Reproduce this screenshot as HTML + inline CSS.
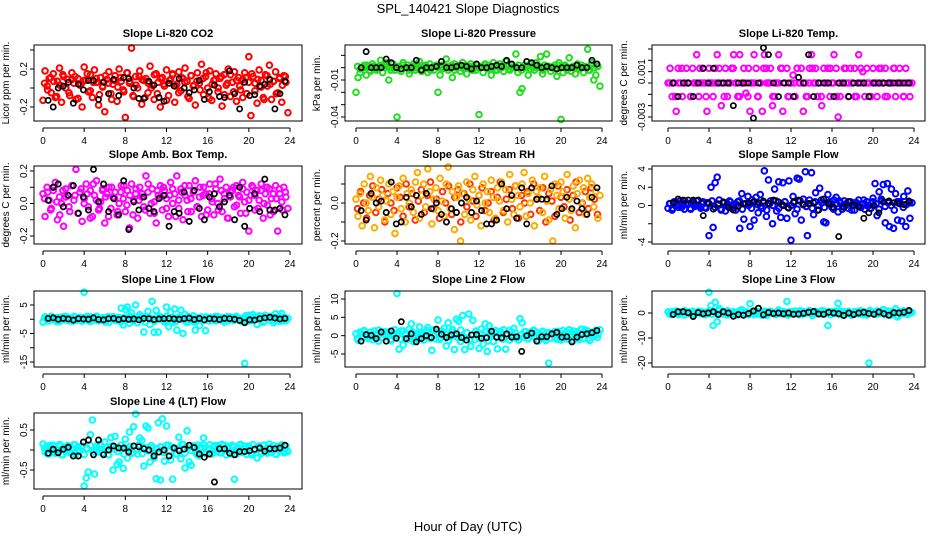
<!DOCTYPE html>
<html><head><meta charset="utf-8"><style>
html,body{margin:0;padding:0;background:#fff;}
svg{display:block;font-family:"Liberation Sans",sans-serif;}
</style></head><body>
<svg id="chart" width="936" height="540" viewBox="0 0 936 540" xmlns="http://www.w3.org/2000/svg">
<text x="468" y="13" text-anchor="middle" font-size="13">SPL_140421  Slope Diagnostics</text>
<text x="468" y="531" text-anchor="middle" font-size="13">Hour of Day (UTC)</text>
</svg>
<script>
const xTickValues=[0,4,8,12,16,20,24];
const xTickLabels=["0","4","8","12","16","20","24"];
// CO2
const co2Vals=[-0.13,0.18,0.02,0.1,-0.05,0.15,-0.1,0.07,0.21,-0.15,0.12,0.0,0.09,-0.08,0.16,0.05,-0.12,0.1,0.03,-0.2,0.22,0.08,-0.04,0.14,-0.1,0.19,0.06,-0.18,0.11,0.01,-0.25,0.09,0.17,-0.06,0.04,0.13,-0.14,0.2,0.07,-0.02,-0.31,0.16,0.05,0.42,-0.09,0.12,0.0,0.18,-0.17,0.08,0.1,-0.05,0.23,0.03,-0.12,0.15,0.06,-0.2,0.11,0.02,0.19,-0.08,0.09,0.14,-0.15,0.04,0.17,-0.03,0.1,0.21,0.07,-0.11,0.13,0.02,-0.18,0.16,0.05,0.25,-0.07,0.12,0.0,0.18,-0.13,0.08,0.15,-0.04,0.1,-0.19,0.14,0.03,0.2,-0.09,0.06,0.17,-0.14,0.11,-0.02,0.09,0.16,-0.06,0.33,-0.29,0.12,0.05,-0.16,0.19,0.08,-0.1,0.14,0.02,0.24,-0.12,0.07,0.17,-0.05,0.11,-0.15,0.13,0.06,-0.26];
const co2Vals2=[0.05,-0.02,0.11,0.07,-0.09,0.03,0.14,0.0,-0.05,0.09,0.12,-0.11,0.04,0.08,0.15,-0.03,0.06,0.1,-0.07,0.02,0.13,0.05,-0.12,0.08,0.01,0.11,-0.04,0.16,0.07,-0.08,0.03,0.12,0.09,-0.1,0.05,0.0,0.14,-0.06,0.1,0.04,-0.13,0.08,0.15,0.02,-0.05,0.11,0.06,-0.09,0.13,0.03,0.07,-0.02,0.1,0.16,-0.11,0.04,0.09,0.0,0.12,-0.07,0.05,0.14,-0.04,0.08,0.02,-0.1,0.11,0.06,0.15,-0.03,0.09,0.01,-0.12,0.13,0.04,0.07,-0.06,0.1,0.03,0.12];
const co2Black=[-0.13,-0.2,0.0,0.02,0.06,-0.16,0.04,-0.02,0.08,0.08,-0.12,0.06,-0.06,0.09,-0.08,0.11,0.1,0.0,-0.11,-0.11,0.07,0.03,-0.1,-0.14,0.05,0.02,0.1,0.0,-0.05,-0.02,0.08,-0.12,-0.04,0.03,-0.09,-0.1,0.18,-0.06,-0.22,0.06,-0.08,-0.07,0.02,0.04,0.09,-0.22,-0.06,0.07];
const co2Ticks=[-0.2,0,0.2,0.4];
const co2TickLabels=["-0.2","","0.2",""];
// Pressure
const presVals=[-0.02,-0.008,-0.004,0.0,0.002,-0.006,0.001,-0.003,0.003,0.0,-0.002,0.001,0.006,-0.004,0.002,0.004,-0.01,0.0,0.003,-0.002,-0.04,0.001,-0.003,0.004,0.0,0.002,-0.005,0.001,0.003,-0.002,0.0,0.005,-0.003,0.001,0.002,-0.004,0.003,0.0,-0.002,0.001,-0.02,-0.006,0.002,0.0,0.007,-0.002,0.001,-0.008,0.003,0.0,0.002,-0.003,0.004,0.0,-0.005,0.001,0.003,-0.002,0.0,0.002,-0.038,0.001,-0.004,0.003,0.0,0.002,-0.006,0.004,-0.002,0.001,0.003,0.0,-0.003,0.005,0.001,-0.002,0.002,0.0,0.011,-0.004,-0.02,-0.017,0.002,0.0,-0.006,0.003,0.001,-0.002,0.004,0.0,0.009,-0.005,0.002,0.011,0.001,-0.003,0.0,0.002,-0.007,0.004,-0.042,-0.004,0.002,0.0,0.008,-0.003,0.001,-0.005,0.003,0.0,0.002,-0.004,0.0,0.015,-0.002,0.004,-0.01,-0.006,0.001,-0.015];
const presVals2=[0.001,-0.001,0.0,0.002,-0.002,0.001,0.0,-0.001,0.002,0.0,0.001,-0.002,0.0,0.001,-0.001,0.002,0.0,-0.002,0.001,0.0,0.002,-0.001,0.001,0.0,-0.002,0.001,0.002,0.0,-0.001,0.001,0.0,0.002,-0.002,0.0,0.001,-0.001,0.002,0.0,0.001,-0.002,0.0,0.001,0.002,-0.001,0.0,0.001,-0.002,0.0,0.002,0.001,-0.001,0.0,0.001,0.002,-0.002,0.0,0.001,-0.001,0.0,0.002,0.001,-0.002,0.0,0.001,0.0,-0.001,0.002,0.0,0.001,-0.002,0.0,0.001,0.002,-0.001,0.0,0.001,-0.002,0.002,0.0,0.001];
const presBlack=[0.0,0.013,0.0,0.0,0.0,0.007,0.004,0.0,-0.001,0.0,0.0,0.006,-0.002,0.0,0.0,0.001,0.005,0.0,0.0,0.001,0.002,0.001,-0.001,0.003,0.0,0.0,0.001,0.002,0.001,0.006,0.003,0.0,0.0,0.005,0.004,0.002,0.0,0.001,0.0,-0.001,0.0,0.0,0.0,0.002,0.0,0.0,0.006,0.003];
const presTicks=[0.01,0,-0.01,-0.02,-0.03,-0.04];
const presTickLabels=["","","-0.01","","","-0.04"];
// Li-820 temp (values in 0.001 degC/min)
const tempVals=[0,1.3,-1.2,0,-2.5,1.3,0,-1.2,0,1.3,0,-1.2,1.3,0,2.5,-1.2,0,1.3,0,-2.5,1.3,0,-1.2,0,2.5,1.3,-2,0,1.3,-1.2,0,1.3,2.5,0,-1.2,2.5,0,1.3,-0.9,-1.2,-2.5,0,2.5,1.3,-1.2,0,-2.5,2.5,1.3,0,1.3,-2.0,-1.2,0,2.5,1.3,-2.5,0,1.3,-1.2,0,0.7,-1.2,1.3,0,1.3,-2.5,0,-1.2,1.3,2.5,0,1.3,-1.2,0,-2.0,1.3,0,1.3,-1.2,0,2.5,1.3,-3.0,-1.2,0,1.3,0,-1.2,1.3,0,1.3,-1.2,2.5,0,1.0,-1.2,1.3,0,-1.2,1.3,0,-1.2,0,1.3,0,1.3,-1.2,0,0,1.3,-1.2,0,1.3,0,-1.2,1.3,0,-1.2,0];
const tempVals2=[0,0,-1.2,0,1.3,0,0,-1.2,0,0,1.3,0,-1.2,0,0,1.3,0,0,-1.2,0,0,1.3,0,-1.2,0,0,1.3,0,0,-1.2,0,1.3,0,0,-1.2,0,0,1.3,0,-1.2,0,0,1.3,0,0,-1.2,0,1.3,0,0,-1.2,0,0,1.3,0,-1.2,0,0,1.3,0,0,-1.2,0,1.3,0,0,-1.2,0,0,1.3,0,-1.2,0,0,1.3,0,0,-1.2,0,0];
const tempBlack=[0,-1.2,0,0,-1.2,0,1.3,0,1.3,0,0,0,-2,0,0,0,-3.1,0,3.1,2.5,0,-1.2,0,0,-1.2,0.5,0,2.5,-1.2,0,0,0,-1.2,0,0,-1.2,0,0,0,-1.2,0,0,0,0,0,0,0,0];
const tempTicks=[3,2,1,0,-1,-2,-3];
const tempTickLabels=["","","0.001","","","","-0.003"];
// Amb box temp
const ambVals=[0.06,-0.08,0.1,0.02,-0.03,0.08,0.13,-0.1,0.04,0.0,-0.14,0.09,0.05,-0.05,0.11,0.02,0.21,-0.06,0.07,-0.11,0.03,0.12,-0.02,0.08,-0.08,0.05,0.14,-0.04,0.01,0.09,-0.12,0.06,0.1,-0.03,0.04,0.07,-0.07,0.0,0.11,0.03,-0.05,0.08,-0.15,0.12,0.02,0.06,-0.09,0.1,0.04,-0.02,0.17,0.07,-0.06,0.09,0.01,-0.12,0.05,0.11,-0.04,0.08,0.03,-0.08,0.13,0.0,0.06,0.17,-0.03,0.09,-0.1,0.05,0.02,0.11,-0.05,0.07,0.14,-0.02,0.04,-0.08,0.1,0.06,-0.04,0.12,0.03,-0.07,0.09,0.0,0.15,-0.05,0.06,0.1,-0.09,0.04,0.08,-0.02,0.11,0.05,-0.06,0.13,0.01,0.07,-0.17,0.05,0.1,-0.04,0.08,0.02,0.12,-0.09,0.06,-0.01,0.09,0.03,-0.05,0.11,-0.17,0.06,0.01,0.1,0.04,-0.03];
const ambVals2=[0.03,0.07,-0.04,0.1,0.01,-0.07,0.08,0.04,-0.02,0.11,0.05,-0.06,0.09,0.0,0.06,-0.09,0.12,0.02,-0.03,0.08,0.04,-0.08,0.1,0.03,-0.05,0.07,0.11,-0.01,0.05,-0.07,0.09,0.02,0.06,-0.04,0.12,0.0,-0.06,0.08,0.04,0.1,-0.03,0.05,0.09,-0.08,0.02,0.07,0.11,-0.05,0.03,0.08,-0.02,0.1,0.05,-0.07,0.06,0.01,0.12,-0.04,0.08,0.03,-0.09,0.07,0.1,-0.01,0.04,0.09,-0.06,0.02,0.11,0.05,-0.03,0.08,0.0,0.1,-0.07,0.06,0.03,0.09,-0.04,0.07];
const ambBlack=[0.02,0.1,0.12,-0.02,0.05,0.11,-0.06,0.04,-0.04,0.21,0.01,0.12,-0.05,0.03,-0.07,0.14,-0.16,0.01,-0.04,0.04,-0.03,-0.05,0.03,0.05,-0.14,-0.05,-0.06,0.07,-0.11,0.08,-0.03,-0.1,0.04,0.06,-0.02,0.01,0.05,-0.1,0.1,-0.14,-0.03,0.06,-0.05,0.15,-0.04,-0.04,-0.03,-0.07];
const ambTicks=[0.2,0.1,0,-0.1,-0.2];
const ambTickLabels=["0.2","","0.0","","-0.2"];
// Gas stream RH
const rhVals=[0.02,-0.07,0.05,-0.12,0.1,0.0,-0.04,0.14,0.03,-0.13,0.08,-0.02,0.12,0.04,-0.09,0.01,0.1,-0.06,0.06,-0.16,0.03,0.09,-0.03,0.13,-0.1,0.05,0.0,0.07,-0.05,0.11,0.16,-0.08,0.04,0.1,-0.02,0.18,0.06,-0.11,0.02,0.08,-0.04,0.13,0.01,-0.07,0.1,0.19,-0.03,0.06,-0.14,0.03,0.09,-0.2,0.05,-0.06,0.11,0.02,-0.09,0.07,0.14,-0.01,0.04,-0.12,0.1,0.0,0.06,-0.05,0.12,0.03,-0.08,0.08,0.01,0.11,-0.04,0.07,-0.1,0.15,0.02,-0.06,0.09,0.04,-0.02,0.1,0.16,-0.07,0.05,0.0,0.12,-0.12,0.06,0.03,0.08,-0.05,0.14,0.01,-0.09,0.07,-0.2,0.1,0.04,-0.03,0.11,0.06,-0.08,0.15,0.02,-0.04,0.09,-0.13,0.05,0.12,0.0,0.08,-0.06,0.13,0.03,0.1,-0.02,0.06,-0.08,0.04];
const rhVals2=[-0.03,0.06,0.0,-0.08,0.04,0.09,-0.05,0.02,0.07,-0.1,0.05,0.0,-0.04,0.08,0.03,-0.07,0.1,-0.02,0.05,-0.09,0.01,0.07,-0.05,0.04,0.11,-0.03,0.02,-0.08,0.06,0.0,0.09,-0.06,0.03,0.07,-0.1,0.05,-0.02,0.1,0.01,-0.07,0.04,0.08,-0.04,0.0,0.06,-0.09,0.03,0.11,-0.05,0.02,0.07,-0.03,0.09,-0.08,0.04,0.0,0.06,-0.06,0.1,0.02,-0.04,0.08,-0.1,0.05,0.01,-0.07,0.09,0.03,-0.02,0.07,-0.09,0.04,0.11,-0.05,0.0,0.06,-0.03,0.08,0.02,-0.06];
const rhBlack=[-0.04,-0.09,0.05,0.0,0.01,-0.05,0.11,-0.11,-0.1,0.03,-0.02,0.04,-0.06,0.05,-0.03,0.0,-0.06,-0.1,-0.03,-0.05,0.0,0.03,-0.05,0.01,-0.04,-0.11,-0.11,-0.09,0.1,-0.03,0.04,-0.08,0.08,-0.11,0.08,0.02,0.02,0.02,0.09,-0.06,-0.03,0.03,-0.03,0.01,-0.03,-0.06,0.03,0.08];
const rhTicks=[0.1,0,-0.1,-0.2];
const rhTickLabels=["","0.0","","-0.2"];
// Sample flow
const flowVals=[-0.3,0.2,-0.5,0.4,0.1,-0.2,0.5,0.0,-0.4,0.3,0.2,-0.3,0.4,-0.1,0.5,0.0,-0.3,0.2,-0.2,0.3,-3.3,2.0,-2.4,2.5,3.1,0.6,-0.4,0.3,-0.6,0.2,0.5,-0.3,0.1,-0.5,0.4,-2.5,1.3,-1.5,0.2,1.0,-2.3,0.6,-1.6,0.9,-0.8,1.2,-0.3,3.8,-1.2,2.8,0.5,-2.0,1.8,-0.6,2.6,-1.3,2.5,0.4,-1.4,2.7,-3.8,1.0,-0.9,3.0,2.9,-1.6,0.7,3.7,-3.3,0.6,3.6,-1.0,1.4,-0.5,1.9,0.3,-1.8,-1.9,1.2,0.4,-0.2,0.6,0.9,-0.7,0.3,-0.4,0.5,0.2,-0.3,0.4,0.1,-0.5,0.3,0.6,-0.2,0.2,-0.4,0.4,0.0,-0.3,0.8,2.4,-1.1,1.5,0.7,2.3,-1.9,2.4,-2.3,1.8,-2.5,1.3,-1.6,0.4,-1.7,1.0,-2.3,1.6,-1.4,0.3];
const flowVals2=[0.2,-0.3,0.4,0.0,-0.2,0.5,0.1,-0.4,0.3,0.0,-0.1,0.4,-0.3,0.2,0.5,-0.2,0.1,-0.5,0.3,0.0,0.4,-0.2,0.1,0.5,-0.4,0.2,0.0,-0.3,0.4,0.1,-0.1,0.3,-0.5,0.2,0.0,0.5,-0.3,0.1,0.4,-0.2,0.0,0.3,-0.4,0.5,0.1,-0.1,0.2,-0.3,0.4,0.0,0.6,-0.2,0.3,0.1,-0.4,0.2,0.5,-0.1,0.0,0.4,-0.5,0.3,0.1,-0.2,0.6,0.0,-0.3,0.4,0.2,-0.4,0.5,-0.1,0.3,0.0,-0.5,0.4,0.2,-0.2,0.1,0.3];
const flowBlack=[0.3,0.7,0.6,0.6,0.6,0.6,-1.1,0.3,-0.4,0.2,0.4,-0.2,-0.5,-0.1,0.2,0.3,0.4,0.3,0.5,0.2,0.6,0.4,0.0,-0.3,0.4,0.6,0.1,0.2,0.3,-0.5,0.7,0.2,-0.2,-3.4,-0.2,0.4,0.0,-0.1,-1.4,-0.8,0.0,-0.8,0.4,0.5,0.3,0.2,0.1,0.5];
const flowTicks=[4,2,0,-2,-4];
const flowTickLabels=["4","2","0","","-4"];
// Line 1
const l1Vals=[-1.0,0.8,0.3,-0.5,1.0,0.0,-0.3,0.6,-0.8,0.4,0.9,-0.2,0.5,-0.6,0.2,1.0,-0.4,0.3,0.7,-0.7,9.5,0.4,-0.5,0.8,0.0,-0.3,1.1,-0.6,0.2,0.5,-0.2,0.7,-1.0,0.3,0.9,0.1,-0.5,0.6,3.9,-2.0,3.4,4.3,-1.4,2.2,0.5,5.0,-1.2,1.6,0.8,-4.5,0.9,2.8,-1.8,6.3,-4.6,3.1,-4.5,1.0,0.2,-0.9,4.3,-2.6,2.5,-1.1,3.6,-3.8,0.6,3.2,-5.0,1.7,-1.1,0.5,-0.6,1.2,-3.8,0.3,-2.2,0.8,-0.4,-4.0,0.4,0.7,-0.2,0.5,-0.6,0.9,0.0,-0.4,0.6,0.2,-0.5,0.8,0.3,-0.3,1.0,0.1,-0.6,0.4,-15.5,-0.8,1.4,-0.4,1.6,0.6,-1.8,1.2,0.2,-1.1,1.4,0.5,-0.3,1.0,-1.2,1.9,0.4,-0.7,2.0,0.8,-0.5,0.3];
const l1Vals2=[0.5,-0.6,0.9,0.1,-0.9,0.6,-0.2,1.0,0.3,-0.7,0.8,0.0,-0.4,0.6,1.0,-0.8,0.2,0.7,-0.5,0.4,-1.0,0.9,0.1,-0.3,0.7,-0.9,0.5,0.0,1.1,-0.6,0.3,0.8,-0.2,-1.0,0.6,0.2,-0.7,0.9,0.4,-0.4,1.0,-0.1,0.5,-0.8,0.7,0.0,-0.5,1.0,0.3,-0.9,0.6,0.1,-0.3,0.8,-0.6,0.4,1.0,-0.2,0.5,-1.0,0.9,0.2,-0.4,0.7,0.0,-0.8,1.2,0.3,-0.5,0.8,-0.1,1.0,-0.7,0.4,0.9,-0.3,0.6,1.1,-0.6,0.2];
const l1Black=[0.3,0.5,0.0,0.3,0.1,-0.3,0.2,0.1,0.0,0.5,-0.1,-0.2,0.2,0.3,-0.1,0.2,0.0,0.1,-0.2,0.3,0.2,-0.1,0.1,0.2,0.3,0.1,0.0,0.2,0.4,-0.1,0.3,-0.2,0.2,0.1,-0.1,0.3,0.2,0.0,-0.4,-1.2,-0.2,-0.3,0.2,0.5,0.7,0.4,0.1,0.3];
const l1Ticks=[5,0,-5,-10,-15];
const l1TickLabels=["5","","-5","","-15"];
// Line 2
const l2Vals=[0.5,-1.2,1.0,-0.4,1.4,0.2,-0.8,0.9,-0.2,1.3,0.0,-1.5,0.7,-0.6,1.1,-0.3,0.8,-1.0,0.4,1.6,11.5,-3.7,1.3,-2.5,0.5,-1.0,1.8,3.2,-1.6,0.6,-0.5,2.4,0.3,-1.2,1.0,2.2,-0.4,-4.0,1.5,-0.9,4.3,-0.7,1.2,2.0,-2.8,3.5,-0.3,1.7,-3.8,4.5,3.9,-1.6,5.5,-3.8,0.8,5.9,-2.9,4.2,-1.1,0.6,-3.5,1.8,-2.3,3.2,-4.3,2.7,0.9,-1.6,1.4,-3.6,0.4,-0.8,1.6,-3.7,0.2,-1.2,1.0,2.0,-0.6,-0.5,4.6,3.5,-0.4,1.1,-0.9,0.6,1.3,-0.3,0.9,-1.4,0.2,1.2,-0.6,0.8,-7.5,-0.7,0.5,1.1,-1.0,0.4,-1.2,1.4,0.1,-0.9,1.6,0.3,-1.4,0.7,1.1,-0.5,1.8,-0.8,0.6,1.3,-1.3,0.9,-0.2,1.5,0.4,1.6];
const l2Vals2=[-0.8,0.6,1.2,-0.3,0.9,-1.1,0.4,1.5,-0.6,0.2,1.0,-1.4,0.7,0.0,-0.9,1.3,0.3,-0.5,1.1,-1.2,0.5,0.9,-0.2,1.4,-0.8,0.1,1.2,-1.0,0.6,0.3,-1.3,1.0,0.0,-0.6,1.5,-0.4,0.8,-1.1,0.2,1.3,-0.7,0.5,1.0,-1.5,0.4,0.9,-0.3,1.2,-0.9,0.1,1.4,-0.5,0.7,-1.2,0.3,1.1,-0.8,0.6,1.5,-0.2,0.0,1.0,-1.3,0.8,0.4,-0.6,1.2,-1.0,0.5,0.9,-0.4,1.3,0.2,-1.1,0.7,1.6,-0.7,0.3,1.0,-0.5];
const l2Black=[-1.5,0.3,0.1,-0.8,1.0,-1.5,1.3,-0.7,3.8,-0.8,0.5,-1.7,-0.8,0.0,-0.5,1.8,0.4,-0.5,0.2,0.5,-0.5,-1.2,0.2,0.3,-0.7,-0.6,1.2,-0.4,-0.6,0.5,-0.4,-0.3,-4.3,0.0,0.7,-1.5,-0.3,-0.3,0.5,0.9,-0.4,-0.3,-1.7,-0.4,0.3,0.5,0.8,1.4];
const l2Ticks=[10,5,0,-5];
const l2TickLabels=["10","5","0","-5"];
// Line 3
const l3Vals=[0.5,-0.6,0.3,-0.2,0.8,0.0,-0.4,0.6,-0.8,0.2,0.4,-0.3,0.7,-0.5,0.1,0.6,-0.2,0.4,-0.7,0.3,8.3,3.0,-5.0,4.3,-3.5,1.8,-0.4,0.6,-0.3,0.9,0.1,-0.6,0.5,0.2,-0.8,0.4,1.3,-0.3,0.6,-0.5,3.7,0.2,-0.7,0.8,-0.1,0.5,-0.9,0.3,0.6,-0.4,0.7,0.1,-0.5,0.4,1.2,-0.3,0.6,-0.6,4.6,0.2,0.5,-0.4,0.8,0.0,-0.7,0.3,0.6,-0.2,0.4,1.0,0.2,-0.6,0.7,0.3,-0.3,0.9,-0.5,0.1,-5.0,0.6,0.4,-0.2,0.8,3.9,-0.6,0.3,0.5,-0.4,0.7,0.1,-0.5,0.6,0.2,-0.3,0.9,-0.7,0.4,0.0,-20.0,0.5,0.3,-0.4,0.8,-0.2,0.6,1.4,-0.5,0.3,0.7,-0.8,0.2,1.7,-1.6,0.5,-0.3,0.8,0.1,-0.6,0.4,0.2];
const l3Vals2=[-0.3,0.6,0.1,-0.7,0.4,0.9,-0.2,0.5,-0.9,0.3,0.7,-0.4,0.0,0.8,-0.6,0.2,1.0,-0.3,0.5,-0.8,0.4,0.1,-0.5,0.9,-0.1,0.6,-0.7,0.3,0.8,-0.4,0.0,0.7,-0.9,0.5,0.2,-0.6,1.0,-0.2,0.4,-0.8,0.6,0.1,-0.3,0.9,-0.5,0.3,0.7,-1.0,0.5,0.0,-0.4,0.8,0.2,-0.7,0.6,-0.1,0.9,-0.6,0.3,0.5,-0.9,0.1,0.7,-0.3,0.4,-0.8,1.0,0.0,-0.5,0.6,0.2,-0.7,0.8,-0.2,0.4,-1.0,0.5,0.9,-0.4,0.1];
const l3Black=[-0.6,0.5,0.5,0.1,-1.4,0.2,-0.3,0.0,0.5,-0.6,0.5,0.0,-1.3,-0.6,-0.9,-0.2,0.8,1.9,-0.7,0.2,-0.2,0.0,-0.3,0.0,-0.5,-0.4,-0.1,0.3,0.6,-0.4,-0.5,0.3,0.0,-0.3,-1.0,0.0,-0.6,0.0,0.3,-0.2,-0.5,0.4,-0.3,-0.9,0.1,0.0,0.3,1.0];
const l3Ticks=[10,0,-10,-20];
const l3TickLabels=["","0","-10","-20"];
// Line 4
const l4Vals=[0.15,-0.05,0.1,-0.1,0.05,0.12,-0.08,0.0,0.14,-0.12,0.06,-0.03,0.11,-0.07,0.02,0.13,-0.1,0.08,-0.02,0.1,-0.9,-0.7,-0.55,0.38,0.75,-0.6,0.1,-0.05,0.12,-0.08,0.2,0.07,-0.12,0.31,-0.5,0.34,-0.36,-0.3,0.12,-0.46,0.27,-0.2,0.45,-0.08,0.58,0.9,-0.1,0.3,0.24,-0.4,0.6,0.55,-0.3,0.05,-0.2,-0.72,0.68,-0.75,0.78,-0.28,0.6,0.12,-0.25,-0.73,0.05,-0.1,0.32,-0.22,0.14,-0.45,0.48,-0.3,-0.38,0.1,-0.05,0.12,-0.15,0.06,0.3,-0.08,0.02,0.13,-0.1,0.08,-0.04,0.11,-0.07,0.14,0.0,-0.12,0.09,-0.02,0.12,-0.73,-0.1,0.05,0.14,-0.06,0.1,-0.11,0.06,-0.08,0.13,0.0,-0.2,0.1,-0.09,0.12,0.02,-0.05,0.15,-0.06,0.11,-0.1,0.08,0.02,0.13,-0.07,0.1,-0.04];
const l4Vals2=[0.05,-0.1,0.12,0.0,-0.06,0.1,-0.12,0.07,0.02,-0.09,0.13,-0.03,0.08,-0.11,0.04,0.11,-0.05,0.0,0.14,-0.08,0.06,-0.12,0.1,0.02,-0.04,0.12,-0.1,0.05,0.09,-0.07,0.0,0.13,-0.09,0.06,-0.02,0.11,-0.12,0.04,0.08,-0.06,0.12,-0.03,0.07,-0.1,0.02,0.14,-0.08,0.05,-0.01,0.1,-0.11,0.06,0.13,-0.05,0.03,-0.09,0.11,0.0,-0.07,0.12,0.04,-0.1,0.08,-0.02,0.13,-0.06,0.05,0.1,-0.12,0.02,0.09,-0.04,0.12,-0.08,0.06,0.0,-0.11,0.1,0.03,-0.05];
const l4Black=[-0.08,0.02,-0.07,0.02,0.07,-0.15,-0.15,0.2,0.25,-0.12,0.25,-0.12,0.0,0.1,0.05,0.05,-0.05,0.1,0.08,0.03,0.0,-0.15,-0.05,0.0,-0.15,0.05,-0.02,0.02,0.12,0.06,-0.1,-0.18,-0.1,-0.8,0.03,0.03,-0.08,-0.12,-0.04,-0.04,-0.02,0.02,0.05,-0.03,0.03,0.03,0.05,0.12];
const l4Ticks=[0.5,0,-0.5];
const l4TickLabels=["0.5","","-0.5"];

const NS="http://www.w3.org/2000/svg";
const svg=document.getElementById('chart');
const cols=[{L:34,R:302,x0:43,x24:290},{L:345,R:612,x0:356,x24:602},{L:652,R:925,x0:668,x24:914}];
const rows=[{T:45,B:121},{T:166,B:244},{T:291,B:367},{T:413,B:489}];
const panels=[
 {slug:'co2',title:'Slope Li-820 CO2',ylab:'Licor ppm per min.',c:0,r:0,v1:0.2,p1:69,v2:-0.2,p2:107,vals:co2Vals,vals2:co2Vals2,blk:co2Black,ticks:co2Ticks,tl:co2TickLabels,col:'#ff0000'},
 {slug:'pressure',title:'Slope Li-820 Pressure',ylab:'kPa per min.',c:1,r:0,v1:-0.01,p1:80,v2:-0.04,p2:117,vals:presVals,vals2:presVals2,blk:presBlack,ticks:presTicks,tl:presTickLabels,col:'#22dd22'},
 {slug:'li820-temp',title:'Slope Li-820 Temp.',ylab:'degrees C per min.',c:2,r:0,v1:0,p1:83,v2:-3,p2:117,vals:tempVals,vals2:tempVals2,blk:tempBlack,ticks:tempTicks,tl:tempTickLabels,col:'#ff00ff'},
 {slug:'amb-box-temp',title:'Slope Amb. Box Temp.',ylab:'degrees C per min.',c:0,r:1,v1:0.2,p1:171,v2:-0.2,p2:236,vals:ambVals,vals2:ambVals2,blk:ambBlack,ticks:ambTicks,tl:ambTickLabels,col:'#ff00ff'},
 {slug:'gas-stream-rh',title:'Slope Gas Stream RH',ylab:'percent per min.',c:1,r:1,v1:0,p1:203,v2:-0.2,p2:241,vals:rhVals,vals2:rhVals2,blk:rhBlack,ticks:rhTicks,tl:rhTickLabels,col:'#ffaa00',col2:'#ff3300'},
 {slug:'sample-flow',title:'Slope Sample Flow',ylab:'ml/min per min.',c:2,r:1,v1:4,p1:169,v2:-4,p2:242,vals:flowVals,vals2:flowVals2,blk:flowBlack,ticks:flowTicks,tl:flowTickLabels,col:'#0000ff'},
 {slug:'line1-flow',title:'Slope Line 1 Flow',ylab:'ml/min per min.',c:0,r:2,v1:5,p1:305,v2:-15,p2:362,vals:l1Vals,vals2:l1Vals2,blk:l1Black,ticks:l1Ticks,tl:l1TickLabels,col:'#00ffff'},
 {slug:'line2-flow',title:'Slope Line 2 Flow',ylab:'ml/min per min.',c:1,r:2,v1:10,p1:299,v2:-5,p2:354,vals:l2Vals,vals2:l2Vals2,blk:l2Black,ticks:l2Ticks,tl:l2TickLabels,col:'#00ffff'},
 {slug:'line3-flow',title:'Slope Line 3 Flow',ylab:'ml/min per min.',c:2,r:2,v1:0,p1:313,v2:-20,p2:363,vals:l3Vals,vals2:l3Vals2,blk:l3Black,ticks:l3Ticks,tl:l3TickLabels,col:'#00ffff'},
 {slug:'line4-flow',title:'Slope Line 4 (LT) Flow',ylab:'ml/min per min.',c:0,r:3,v1:0.5,p1:430,v2:-0.5,p2:470,vals:l4Vals,vals2:l4Vals2,blk:l4Black,ticks:l4Ticks,tl:l4TickLabels,col:'#00ffff'}
];
function mk(tag,attrs,parent){const e=document.createElementNS(NS,tag);for(const k in attrs)e.setAttribute(k,attrs[k]);(parent||svg).appendChild(e);return e;}
panels.forEach(p=>{
 const C=cols[p.c],R=rows[p.r];
 const g=mk('g',{});
 
 
 const xs=h=>C.x0+(C.x24-C.x0)*h/24;
 const ys=v=>p.p1+(v-p.v1)*(p.p2-p.p1)/(p.v2-p.v1);
 const t=mk('text',{x:(C.L+C.R)/2,y:R.T-8,'text-anchor':'middle','font-size':'11','font-weight':'bold'},g);
 t.textContent=p.title;
 
 
 const n2=p.vals2.length;
 p.vals2.forEach((v,i)=>{
  const c=mk('circle',{cx:xs(0.15+i*23.7/n2),cy:ys(v),r:2.8,fill:'none',stroke:p.col2||p.col,'stroke-width':2},g);
  
  
 });
 const n=p.vals.length;
 p.vals.forEach((v,i)=>{
  const c=mk('circle',{cx:xs(i*24/n),cy:ys(v),r:2.8,fill:'none',stroke:p.col,'stroke-width':2},g);
  
  
 });
 const m=p.blk.length;
 p.blk.forEach((v,i)=>{
  const c=mk('circle',{cx:xs(0.5+i*23.5/m),cy:ys(v),r:2.6,fill:'none',stroke:'#000','stroke-width':1.7},g);
  
  
 });
 const box=mk('rect',{x:C.L,y:R.T,width:C.R-C.L,height:R.B-R.T,fill:'none',stroke:'#000','stroke-width':1},g);
 
 
 const ay=R.B+7;
 mk('line',{x1:xs(0),x2:xs(24),y1:ay,y2:ay,stroke:'#000'},g);
 xTickValues.forEach((h,i)=>{
  mk('line',{x1:xs(h),x2:xs(h),y1:ay,y2:ay+4,stroke:'#000'},g);
  const tx=mk('text',{x:xs(h),y:ay+16,'text-anchor':'middle','font-size':'10'},g);
  tx.textContent=xTickLabels[i];
  
  
 });
 p.ticks.forEach((v,i)=>{
  const y=ys(v);
  if(y<R.T-1||y>R.B+1)return;
  mk('line',{x1:C.L-4,x2:C.L,y1:y,y2:y,stroke:'#000'},g);
  if(p.tl[i]){
   const tx=mk('text',{x:C.L-7,y:y,'text-anchor':'middle','font-size':'10',transform:`rotate(-90 ${C.L-7} ${y})`},g);
   tx.textContent=p.tl[i];
   
   
  }
 });
 const yl=C.L-25,yc=(R.T+R.B)/2;
 const yt=mk('text',{x:yl,y:yc,'text-anchor':'middle','font-size':'10',transform:`rotate(-90 ${yl} ${yc})`},g);
 yt.textContent=p.ylab;
 
 
});
</script>
</body></html>
